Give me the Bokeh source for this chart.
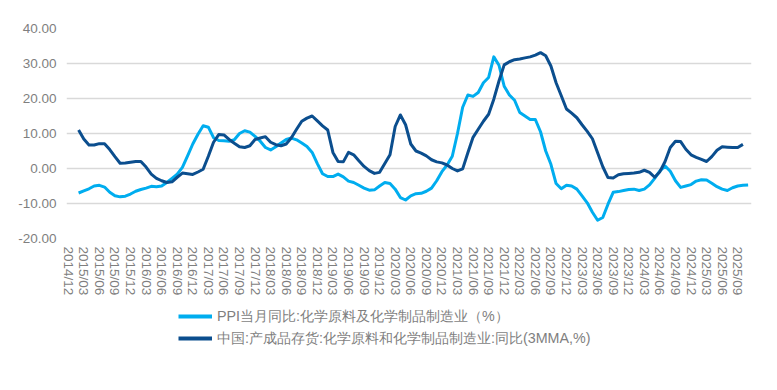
from bokeh.plotting import figure
from bokeh.layouts import column
from bokeh.models import Range1d, FixedTicker, Legend, LegendItem, NumeralTickFormatter, ColumnDataSource
from bokeh.embed import file_html
from bokeh.resources import INLINE

# Axis month labels (every 3 months), month index 0 = 2014/12
tick_labels = [
    "2014/12", "2015/03", "2015/06", "2015/09", "2015/12", "2016/03", "2016/06", "2016/09",
    "2016/12", "2017/03", "2017/06", "2017/09", "2017/12", "2018/03", "2018/06", "2018/09",
    "2018/12", "2019/03", "2019/06", "2019/09", "2019/12", "2020/03", "2020/06", "2020/09",
    "2020/12", "2021/03", "2021/06", "2021/09", "2021/12", "2022/03", "2022/06", "2022/09",
    "2022/12", "2023/03", "2023/06", "2023/09", "2023/12", "2024/03", "2024/06", "2024/09",
    "2024/12", "2025/03", "2025/06", "2025/09",
]

# PPI YoY, chemical raw materials & products, monthly from 2015/02
ppi_start = 2  # month offset from 2014/12
ppi = [
    -7.0, -6.4, -5.8, -5.0, -4.8, -5.3, -6.8, -7.8, -8.1, -7.9, -7.3, -6.5, -6.0, -5.6, -5.1, -5.2,
    -5.0, -4.0, -2.8, -1.6, 0.3, 3.6, 7.0, 9.8, 12.2, 11.8, 8.8, 8.0, 7.9, 7.8, 8.2, 10.0,
    10.8, 10.4, 9.2, 7.8, 6.0, 5.3, 6.2, 7.3, 8.3, 8.7, 8.2, 7.3, 6.3, 4.6, 1.4, -1.5,
    -2.3, -2.3, -1.6, -2.4, -3.6, -4.0, -4.8, -5.6, -6.2, -6.1, -5.0, -4.0, -4.3, -5.9, -8.3, -9.0,
    -7.8, -7.2, -7.1, -6.5, -5.6, -3.5, -0.9, 1.0, 3.5, 10.0, 17.5, 21.0, 20.6, 21.7, 24.5, 26.0,
    31.9, 29.5, 23.5, 21.0, 19.5, 16.0, 15.0, 14.0, 14.0, 10.5, 5.0, 1.2, -4.3, -5.8, -4.8, -5.0,
    -5.9, -7.8, -9.8, -12.5, -14.8, -14.0, -10.2, -6.8, -6.6, -6.3, -6.0, -5.9, -6.3, -5.9, -4.7, -2.8,
    -0.7, 0.7, -0.8, -3.5, -5.4, -5.0, -4.6, -3.6, -3.2, -3.3, -4.2, -5.2, -5.9, -6.3, -5.5, -5.0,
    -4.8, -4.7,
]

# Finished goods inventory YoY (3MMA), monthly from 2015/02
inv_start = 2
inv = [
    11.0, 8.4, 6.7, 6.7, 7.1, 7.1, 5.4, 3.4, 1.5, 1.6, 1.8, 2.0, 2.0, 0.4, -1.6, -2.8,
    -3.5, -4.0, -3.8, -2.5, -1.3, -1.5, -1.7, -1.0, -0.2, 3.5, 7.5, 9.7, 9.6, 8.3, 7.2, 6.2,
    6.0, 6.5, 8.3, 8.7, 9.1, 7.5, 6.8, 6.5, 7.0, 8.8, 11.2, 13.5, 14.4, 15.0, 13.6, 12.2,
    11.0, 4.6, 2.0, 1.9, 4.6, 3.9, 2.2, 0.6, -0.6, -1.4, -1.1, 1.4, 3.9, 12.0, 15.3, 12.5,
    7.0, 5.0, 4.4, 3.6, 2.5, 1.9, 1.6, 1.0, 0.0, -0.7, -0.1, 4.5, 8.9, 11.2, 13.5, 15.5,
    19.8, 25.0, 29.6, 30.5, 31.1, 31.3, 31.6, 31.9, 32.4, 33.1, 32.2, 29.3, 24.5, 20.8, 17.0, 15.8,
    14.5, 12.5, 10.6, 8.5, 4.5, 0.5, -2.6, -2.7, -1.8, -1.5, -1.4, -1.3, -1.1, -0.5, -1.1, -2.5,
    -0.9, 2.0, 6.0, 7.8, 7.7, 5.5, 3.9, 3.2, 2.6, 2.0, 3.4, 5.2, 6.2, 6.1, 6.0, 6.0,
    6.9,
]

series_names = [
    "PPI当月同比:化学原料及化学制品制造业（%）",
    "中国:产成品存货:化学原料和化学制品制造业:同比(3MMA,%)",
]
colors = ["#00adef", "#0b4e8e"]

FONT = "Liberation Sans"
TEXT_COLOR = "#7f7f7f"

p = figure(
    width=777, height=300, output_backend="svg", toolbar_location=None,
    x_range=Range1d(-0.33, 131.65), y_range=Range1d(-20, 40),
    min_border_left=66, min_border_right=26, min_border_top=28, min_border_bottom=62,
)
p.outline_line_color = None
p.background_fill_color = "white"
p.border_fill_color = "white"

src_ppi = ColumnDataSource(dict(x=[ppi_start + i for i in range(len(ppi))], y=ppi))
src_inv = ColumnDataSource(dict(x=[inv_start + i for i in range(len(inv))], y=inv))

p.line("x", "y", source=src_ppi, line_color=colors[0], line_width=3, line_join="round")
p.line("x", "y", source=src_inv, line_color=colors[1], line_width=3, line_join="round")

# grid
p.xgrid.visible = False
p.ygrid.grid_line_color = "#d9d9d9"
p.ygrid.grid_line_width = 1.5

# y axis
p.yaxis.ticker = FixedTicker(ticks=[-20, -10, 0, 10, 20, 30, 40])
p.yaxis.formatter = NumeralTickFormatter(format="0.00")
# x axis
tick_pos = [3 * i for i in range(len(tick_labels))]
p.xaxis.ticker = FixedTicker(ticks=tick_pos)
p.xaxis.major_label_overrides = {t: lab for t, lab in zip(tick_pos, tick_labels)}
p.xaxis.major_label_orientation = "vertical"

for ax in (p.xaxis, p.yaxis):
    ax.axis_line_color = None
    ax.major_tick_line_color = None
    ax.minor_tick_line_color = None
    ax.major_tick_out = 0
    ax.major_tick_in = 0
    ax.major_label_text_font = FONT
    ax.major_label_text_font_size = "13.5px"
    ax.major_label_text_color = TEXT_COLOR
p.yaxis.major_label_standoff = 10
p.xaxis.major_label_standoff = 8

# Legend strip below the chart (same series, drawn outside its view so only the legend shows)
lg = figure(
    width=777, height=90, output_backend="svg", toolbar_location=None,
    x_range=Range1d(1000, 1001), y_range=Range1d(1000, 1001),
    x_axis_type=None, y_axis_type=None, min_border=0,
    min_border_left=0, min_border_right=0, min_border_top=0, min_border_bottom=0,
)
lg.outline_line_color = None
lg.xgrid.visible = False
lg.ygrid.visible = False
l1 = lg.line("x", "y", source=src_ppi, line_color=colors[0], line_width=4)
l2 = lg.line("x", "y", source=src_inv, line_color=colors[1], line_width=4)

legend = Legend(
    items=[LegendItem(label=series_names[0], renderers=[l1]),
           LegendItem(label=series_names[1], renderers=[l2])],
    location=(112, 42),
    orientation="vertical",
    label_text_font=FONT, label_text_font_size="14.3px", label_text_color=TEXT_COLOR,
    glyph_width=34, glyph_height=20, label_height=20, spacing=2,
    padding=0, margin=0, label_standoff=5,
    border_line_color=None, background_fill_alpha=0,
)
lg.add_layout(legend)

layout = column(p, lg, spacing=0)
open("out.html", "w").write(file_html(layout, INLINE))
